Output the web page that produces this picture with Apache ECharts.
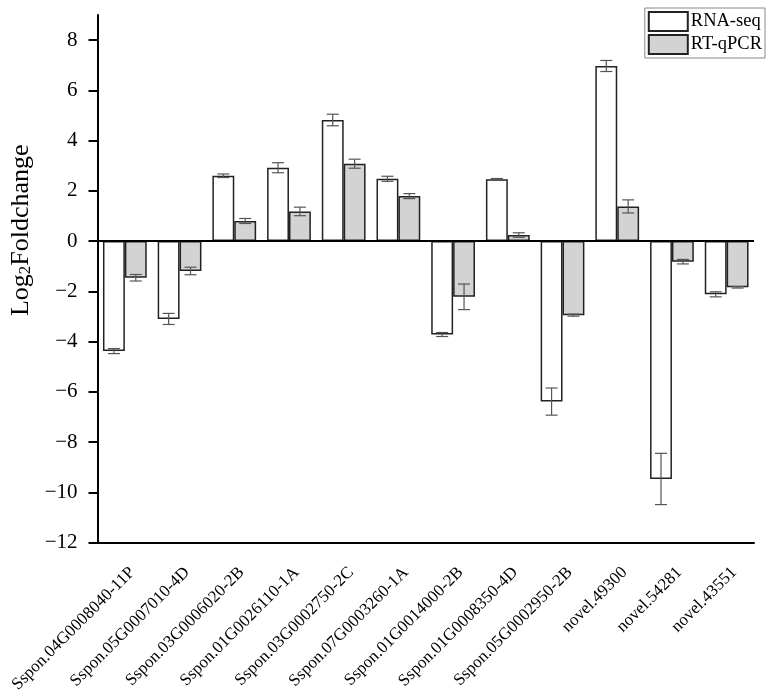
<!DOCTYPE html>
<html>
<head>
<meta charset="utf-8">
<script src="https://cdn.jsdelivr.net/npm/echarts@6/dist/echarts.min.js"></script>
<style>html,body{margin:0;padding:0;background:#fff}#c{width:769px;height:700px}</style>
</head>
<body>
<div id="c"></div>
<script>
var categories = ['Sspon.04G0008040-11P','Sspon.05G0007010-4D','Sspon.03G0006020-2B','Sspon.01G0026110-1A','Sspon.03G0002750-2C','Sspon.07G0003260-1A','Sspon.01G0014000-2B','Sspon.01G0008350-4D','Sspon.05G0002950-2B','novel.49300','novel.54281','novel.43551'];
var rnaSeq = [-4.38, -3.10, 2.60, 2.92, 4.82, 2.48, -3.72, 2.46, -6.39, 6.97, -9.47, -2.12];
var rnaSeqErr = [0.10, 0.22, 0.07, 0.20, 0.23, 0.10, 0.08, 0.03, 0.54, 0.22, 1.02, 0.10];
var rtqpcr = [-1.46, -1.19, 0.80, 1.18, 3.08, 1.79, -2.22, 0.24, -2.95, 1.38, -0.82, -1.84];
var rtqpcrErr = [0.13, 0.15, 0.10, 0.17, 0.18, 0.10, 0.51, 0.09, 0.04, 0.26, 0.09, 0.03];
var yTicks = [-12, -10, -8, -6, -4, -2, 0, 2, 4, 6, 8];

var FONT = "'Liberation Serif', 'Times New Roman', serif";

function errData(vals, errs) {
  return vals.map(function (v, i) { return [i, v, errs[i]]; });
}
function errRender(sign) {
  return function (params, api) {
    var x = api.value(0), v = api.value(1), e = api.value(2);
    var band = api.size([1, 0])[0];
    var off = sign * band * 0.2;
    var top = api.coord([x, v + e]);
    var bot = api.coord([x, v - e]);
    var cx = top[0] + off;
    var hw = 6;
    var st = { stroke: '#555555', lineWidth: 1.2 };
    return {
      type: 'group',
      children: [
        { type: 'line', shape: { x1: cx, y1: top[1], x2: cx, y2: bot[1] }, style: st },
        { type: 'line', shape: { x1: cx - hw, y1: top[1], x2: cx + hw, y2: top[1] }, style: st },
        { type: 'line', shape: { x1: cx - hw, y1: bot[1], x2: cx + hw, y2: bot[1] }, style: st }
      ]
    };
  };
}

var chart = echarts.init(document.getElementById('c'), null, { renderer: 'canvas' });
chart.setOption({
  animation: false,
  backgroundColor: '#fff',
  textStyle: { fontFamily: FONT, color: '#000' },
  grid: { left: 97.5, right: 15, top: 15, bottom: 157.5, containLabel: false, outerBoundsMode: 'none' },
  legend: {
    orient: 'vertical',
    right: 4, top: 8,
    padding: [3, 3, 3, 3],
    itemGap: 2,
    itemWidth: 39, itemHeight: 19,
    borderColor: '#888', borderWidth: 1,
    icon: 'rect',
    textStyle: { fontFamily: FONT, fontSize: 18.5, lineHeight: 19, color: '#000', padding: [0, 0, 0, -2] },
    data: ['RNA-seq', 'RT-qPCR']
  },
  xAxis: {
    type: 'category',
    data: categories,
    boundaryGap: true,
    axisLine: { onZero: false, lineStyle: { color: '#000', width: 2 } },
    axisTick: { alignWithLabel: true, length: 9, lineStyle: { color: '#000', width: 2 } },
    axisLabel: {
      interval: 0, rotate: 45, margin: 20,
      verticalAlign: 'top',
      padding: [2, 0, 0, 0],
      fontFamily: FONT, fontSize: 17, color: '#000'
    },
    splitLine: { show: false }
  },
  yAxis: {
    type: 'value',
    min: -12, max: 9, interval: 2,
    name: '{a|Log}{b|2}{a|Foldchange}',
    nameLocation: 'middle',
    nameGap: 58,
    nameRotate: 90,
    nameTextStyle: {
      padding: [0, 0, 0, 97],
      rich: {
        a: { fontFamily: FONT, fontSize: 26, color: '#000', lineHeight: 26, verticalAlign: 'top' },
        b: { fontFamily: FONT, fontSize: 17, color: '#000', lineHeight: 17, verticalAlign: 'bottom', padding: [14, 0, 0, 0] }
      }
    },
    axisLine: { show: true, lineStyle: { color: '#000', width: 2 } },
    axisTick: { show: true, length: 9, customValues: yTicks, lineStyle: { color: '#000', width: 2 } },
    axisLabel: {
      customValues: yTicks,
      margin: 20,
      fontFamily: FONT, fontSize: 21, color: '#000',
      formatter: function (v) { return v < 0 ? '\u2212' + Math.abs(v) : String(v); }
    },
    splitLine: { show: false }
  },
  series: [
    {
      name: 'RNA-seq', type: 'bar', data: rnaSeq,
      barWidth: '40%', barGap: '0%',
      itemStyle: { color: '#ffffff', borderColor: '#222', borderWidth: 1.5 },
      markLine: {
        silent: true, symbol: 'none', label: { show: false },
        lineStyle: { color: '#000', width: 2, type: 'solid' },
        data: [{ yAxis: 0 }]
      },
      z: 2
    },
    {
      name: 'RT-qPCR', type: 'bar', data: rtqpcr,
      barWidth: '40%', barGap: '0%',
      itemStyle: { color: '#d3d3d3', borderColor: '#222', borderWidth: 1.5 },
      z: 2
    },
    {
      type: 'custom', name: 'RNA-seq err', renderItem: errRender(-1),
      data: errData(rnaSeq, rnaSeqErr), encode: { x: 0, y: 1 }, z: 3, silent: true
    },
    {
      type: 'custom', name: 'RT-qPCR err', renderItem: errRender(1),
      data: errData(rtqpcr, rtqpcrErr), encode: { x: 0, y: 1 }, z: 3, silent: true
    }
  ]
});
</script>
</body>
</html>
